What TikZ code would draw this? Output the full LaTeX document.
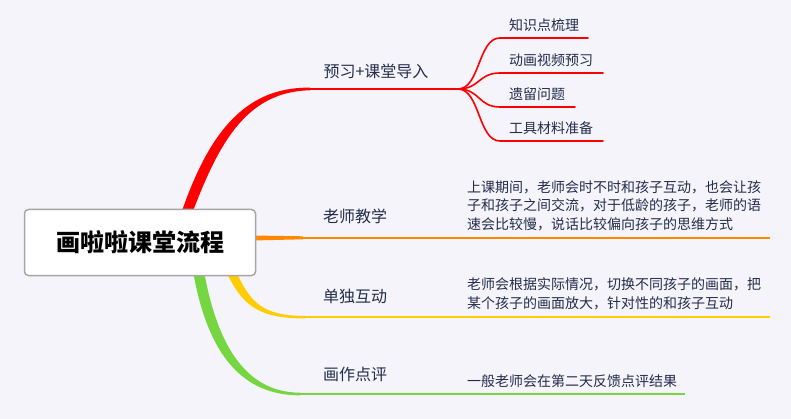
\documentclass[tikz,border=0pt]{standalone}
\usepackage{fontspec}
\newfontfamily\cjk{Noto Sans CJK SC}
\usepackage{tikz}
\usetikzlibrary{positioning, calc, backgrounds}
\definecolor{mapred}{RGB}{255, 0, 0}
\definecolor{maporange}{RGB}{255, 136, 0}
\definecolor{mapyellow}{RGB}{255, 204, 0}
\definecolor{mapgreen}{RGB}{118, 214, 66}
\definecolor{maptext}{RGB}{35, 45, 75}
\definecolor{mapbg}{RGB}{244, 244, 250}

\begin{document}
\begin{tikzpicture}[
    x=1pt, y=-1pt,
    rootbox/.style={rectangle, rounded corners=4pt, draw=black!35, line width=1.5pt,
                    fill=white, minimum width=231pt, minimum height=66pt,
                    font=\cjk\bfseries\fontsize{24}{28}\selectfont, text=black},
    topic/.style={font=\cjk\fontsize{16}{20}\selectfont, text=maptext, inner sep=0pt},
    leaf/.style={font=\cjk\fontsize{14}{18}\selectfont, text=maptext,
                 inner sep=0pt, anchor=west},
    note/.style={font=\cjk\fontsize{14}{18.5}\selectfont, text=maptext,
                 inner sep=0pt, anchor=west, align=left},
    twig/.style={line width=1.6pt, line cap=round}
]
\useasboundingbox (0,0) rectangle (791,419);
\begin{scope}[on background layer]
  \fill[mapbg] (0,0) rectangle (791,419);
\end{scope}

\node[rootbox] (root) at (140,242.5) {画啦啦课堂流程};

\node[topic] (preview) at (376,71)  {预习+课堂导入};
\node[topic] (teach)   at (355,216) {老师教学};
\node[topic] (solo)    at (355,296) {单独互动};
\node[topic] (review)  at (355,374) {画作点评};

\node[note] (teachnote) at (467,205.5)
  {上课期间，老师会时不时和孩子互动，也会让孩\\子和孩子之间交流，对于低龄的孩子，老师的语\\速会比较慢，说话比较偏向孩子的思维方式};
\node[note] (solonote) at (467,294)
  {老师会根据实际情况，切换不同孩子的画面，把\\某个孩子的画面放大，针对性的和孩子互动};
\node[note] (reviewnote) at (467,381) {一般老师会在第二天反馈点评结果};

\coordinate (redknee) at (308,89);
\coordinate (fork)    at (458,89);

\foreach \ty/\tx/\tn/\tt in {38/588/kp/知识点梳理, 73/603/video/动画视频预习,
                             107/575/left/遗留问题, 141/603/tools/工具材料准备}{
  \node[leaf] (\tn) at (509,\ty-13) {\tt};
  \begin{scope}[on background layer]
    \draw[mapred, twig] (fork) .. controls (480,89) and (478,\ty) .. (500,\ty) -- (\tx,\ty);
  \end{scope}
}

% Branches
\begin{scope}[on background layer]
\fill[mapred] ($(root.north)+(41,5)$) .. controls (207,138) and (242,86.5) .. (310,87.7)
  -- (310,90.3) .. controls (247,91.5) and (219,142) .. ($(root.north)+(52,5)$) -- cycle;
\draw[mapred, line width=2.6pt] (redknee) -- (fork);

\fill[maporange] ($(root.east)+(-4,-7)$) -- (303,236.3) -- (303,239.3) -- ($(root.east)+(-4,-2)$) -- cycle;
\draw[maporange, line width=1.9pt] (303,237.8) -- (770,237.8);

\fill[mapyellow] ($(root.south)+(86,-5)$) .. controls (242,305) and (258,318.6) .. (305,318.4)
  -- (305,315.9) .. controls (262,316) and (250,302) .. ($(root.south)+(96,-5)$) -- cycle;
\draw[mapyellow, line width=2.4pt] (304,317.2) -- (770,317.2);

\fill[mapgreen] ($(root.south)+(53,-5)$) .. controls (206,345) and (236,395.5) .. (300,395.3)
  -- (300,392.7) .. controls (242,392.5) and (216,338) .. ($(root.south)+(64,-5)$) -- cycle;
\draw[mapgreen, line width=2.5pt] (299,394) -- (685,394);
\end{scope}

\end{tikzpicture}
\end{document}
